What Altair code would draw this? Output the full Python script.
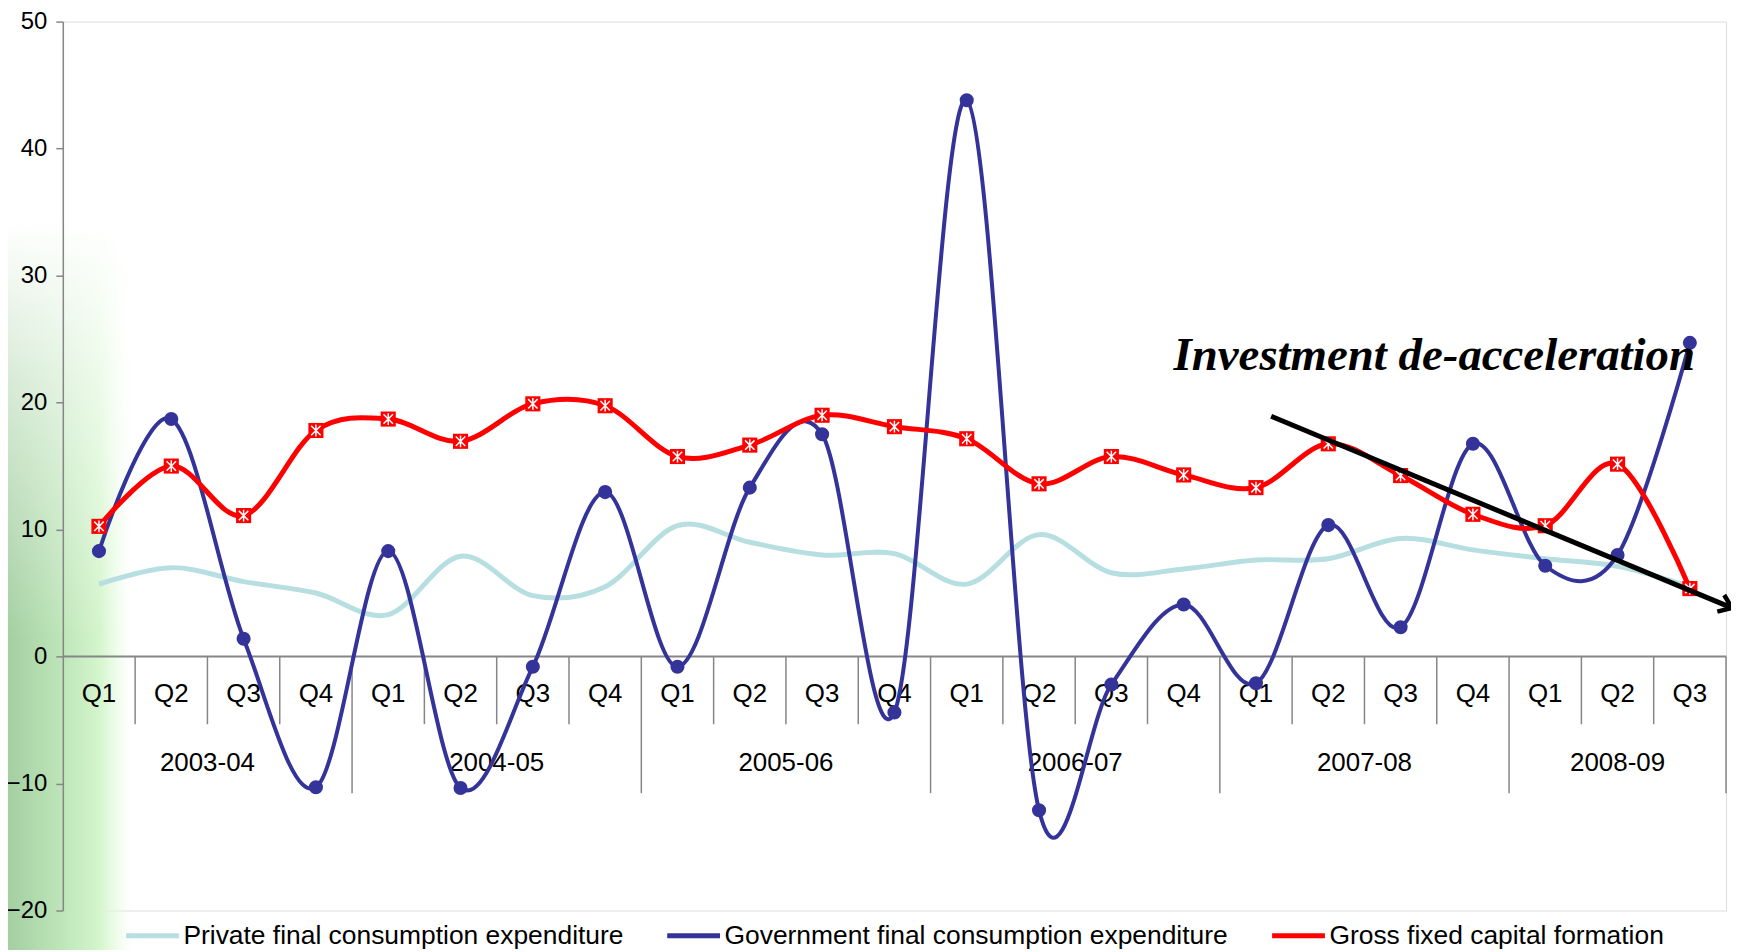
import altair as alt
import pandas as pd

# ---------------- data ----------------
years = ["2003-04", "2004-05", "2005-06", "2006-07", "2007-08", "2008-09"]
quarters_per_year = [4, 4, 4, 4, 4, 3]
quarter_names = ["Q1", "Q2", "Q3", "Q4"]

series_names = [
    "Private final consumption expenditure",
    "Government final consumption expenditure",
    "Gross fixed capital formation",
]
series_colors = ["#B7DEE1", "#333399", "#FF0000"]

private = [5.7, 7.0, 5.9, 5.0, 3.3, 7.9, 4.8, 5.5, 10.3, 9.0, 8.0, 8.1,
           5.7, 9.6, 6.6, 6.9, 7.6, 7.7, 9.3, 8.4, 7.7, 7.1, 5.5]
government = [8.3, 18.7, 1.4, -10.3, 8.3, -10.35, -0.8, 12.95, -0.8, 13.3, 17.5, -4.4,
              43.8, -12.1, -2.2, 4.1, -2.1, 10.35, 2.3, 16.75, 7.15, 8.0, 24.7]
gfcf = [10.25, 15.0, 11.1, 17.8, 18.7, 16.95, 19.9, 19.75, 15.75, 16.65, 19.0, 18.1,
        17.15, 13.6, 15.75, 14.3, 13.3, 16.75, 14.25, 11.2, 10.3, 15.15, 5.35]

annotation_text = "Investment de-acceleration"
annotation_pos = (15.36, 22.6)          # (x category units, y value)
arrow_x = [16.71, 23.08]
arrow_y = [18.92, 3.83]

quarter_label_y = -2.97
year_label_y = -8.39
quarter_sep_bottom = -5.33
year_sep_bottom = -10.76

# ---------------- derived tables ----------------
labels = []
for y, n in zip(years, quarters_per_year):
    labels += quarter_names[:n]
n_cat = len(labels)
xpos = [i + 0.5 for i in range(n_cat)]

df = pd.DataFrame({"x": xpos, "q": labels,
                   "private": private, "gov": government, "gfcf": gfcf})

long_rows = []
for name, vals in zip(series_names, [private, government, gfcf]):
    for xv, v in zip(xpos, vals):
        long_rows.append({"x": xv, "series": name, "value": v})
df_long = pd.DataFrame(long_rows)

bounds = [0]
for n in quarters_per_year:
    bounds.append(bounds[-1] + n)
year_centers = [(bounds[i] + bounds[i + 1]) / 2 for i in range(len(years))]
df_years = pd.DataFrame({"x": year_centers, "year": years})

year_seps = bounds[1:]
quarter_seps = [i for i in range(1, n_cat) if i not in year_seps]
df_qsep = pd.DataFrame({"x": quarter_seps})
df_ysep = pd.DataFrame({"x": year_seps})
df_zero = pd.DataFrame({"x0": [0], "x1": [n_cat]})
df_arrow = pd.DataFrame({"x": arrow_x, "y": arrow_y})
df_head = df_arrow.tail(1)

FONT = "Liberation Sans"
GRAY = "#868686"

xscale = alt.Scale(domain=[0, n_cat], nice=False, zero=False)
yscale = alt.Scale(domain=[-20, 50], nice=False, zero=False)
cscale = alt.Scale(domain=series_names, range=series_colors)

X = lambda f: alt.X(f, type="quantitative", scale=xscale, axis=None)

yaxis = alt.Axis(values=[-20, -10, 0, 10, 20, 30, 40, 50], grid=False,
                 tickSize=7, tickColor=GRAY, tickWidth=1.5,
                 domainColor=GRAY, domainWidth=1.5,
                 labelFontSize=24, labelFont=FONT, labelColor="black",
                 labelPadding=9, title="", zindex=1)

# background green blob at the left (decoration)
one = pd.DataFrame({"a": [0]})
bg = alt.Chart(one).mark_rect(
    color=alt.LinearGradient(
        gradient="linear", x1=0, y1=0, x2=1, y2=0,
        stops=[alt.GradientStop(color="#a4cfa2", offset=0),
               alt.GradientStop(color="#bfe6ba", offset=0.45),
               alt.GradientStop(color="#d6f6ce", offset=0.75),
               alt.GradientStop(color="rgba(235,252,230,0)", offset=1)])
).encode(x=alt.value(-55), x2=alt.value(70), y=alt.value(200), y2=alt.value(932))
bg_fade = alt.Chart(one).mark_rect(
    color=alt.LinearGradient(
        gradient="linear", x1=0, y1=0, x2=0, y2=1,
        stops=[alt.GradientStop(color="rgba(255,255,255,1)", offset=0),
               alt.GradientStop(color="rgba(255,255,255,0.55)", offset=0.4),
               alt.GradientStop(color="rgba(255,255,255,0)", offset=1)])
).encode(x=alt.value(-55), x2=alt.value(70), y=alt.value(200), y2=alt.value(620))

zero = alt.Chart(df_zero).mark_rule(color=GRAY, strokeWidth=2).encode(
    x=X("x0"), x2="x1", y=alt.YDatum(0, scale=yscale, axis=yaxis))

qsep = alt.Chart(df_qsep).mark_rule(color=GRAY, strokeWidth=1.5).encode(
    x=X("x"), y=alt.YDatum(0), y2=alt.Y2Datum(quarter_sep_bottom))
ysep = alt.Chart(df_ysep).mark_rule(color=GRAY, strokeWidth=1.5).encode(
    x=X("x"), y=alt.YDatum(0), y2=alt.Y2Datum(year_sep_bottom))

qtext = alt.Chart(df).mark_text(font=FONT, fontSize=26, color="black",
                                baseline="middle", align="center").encode(
    x=X("x"), y=alt.YDatum(quarter_label_y), text="q:N")
ytext = alt.Chart(df_years).mark_text(font=FONT, fontSize=26, color="black",
                                      baseline="middle", align="center").encode(
    x=X("x"), y=alt.YDatum(year_label_y), text="year:N")

legend = alt.Legend(orient="none", legendX=61, legendY=888, direction="horizontal",
                    symbolType="stroke", symbolStrokeWidth=5, symbolSize=2809,
                    labelFontSize=26.5, labelFont=FONT, labelColor="black",
                    labelLimit=900, columnPadding=33, labelOffset=2, padding=0,
                    title="")


def line_layer(name, width):
    return alt.Chart(df_long).transform_filter(
        alt.datum.series == name
    ).mark_line(interpolate="cardinal", strokeWidth=width).encode(
        x=X("x"), y=alt.Y("value", type="quantitative"),
        color=alt.Color("series", type="nominal", scale=cscale, legend=legend))


l_priv = line_layer(series_names[0], 5)
l_gov = line_layer(series_names[1], 4)
l_gfcf = line_layer(series_names[2], 5)

p_gov = alt.Chart(df).mark_point(shape="circle", filled=True, size=200, opacity=1,
                                 color="#333399").encode(
    x=X("x"), y=alt.Y("gov", type="quantitative"))
p_gfcf = alt.Chart(df).mark_point(shape="square", filled=True, size=230, opacity=1,
                                  color="#FF0000").encode(
    x=X("x"), y=alt.Y("gfcf", type="quantitative"))
p_gfcf_star = alt.Chart(df).mark_point(
    shape="M-0.8,-0.8L0.8,0.8M-0.8,0.8L0.8,-0.8M0,-1L0,1", filled=False,
    size=140, opacity=1, strokeWidth=1.5, color="white").encode(
    x=X("x"), y=alt.Y("gfcf", type="quantitative"))

arrow = alt.Chart(df_arrow).mark_line(color="black", strokeWidth=5).encode(
    x=X("x"), y=alt.Y("y", type="quantitative"))
head = alt.Chart(df_head).mark_point(
    shape="M-1,-0.75L0,0L-1,0.75", filled=False, size=576, opacity=1,
    strokeWidth=4.5, color="black", angle=22.6).encode(
    x=X("x"), y=alt.Y("y", type="quantitative"))

note = alt.Chart(pd.DataFrame({"t": [annotation_text]})).mark_text(
    font="Liberation Serif", fontSize=47, fontStyle="italic", fontWeight="bold",
    color="black", align="left", baseline="alphabetic").encode(
    x=alt.XDatum(annotation_pos[0], scale=xscale),
    y=alt.YDatum(annotation_pos[1]), text="t:N")

chart = alt.layer(bg, bg_fade, zero, qsep, ysep, qtext, ytext,
                  l_priv, l_gov, l_gfcf, p_gov, p_gfcf, p_gfcf_star,
                  arrow, head, note).properties(
    width=1669, height=892,
    autosize=alt.AutoSizeParams(type="none"),
    padding={"left": 55, "top": 12, "right": 5, "bottom": 38},
).configure_view(stroke=None).configure(background="white")

chart.save("out.html", embed_options={"renderer": "svg", "actions": False})
